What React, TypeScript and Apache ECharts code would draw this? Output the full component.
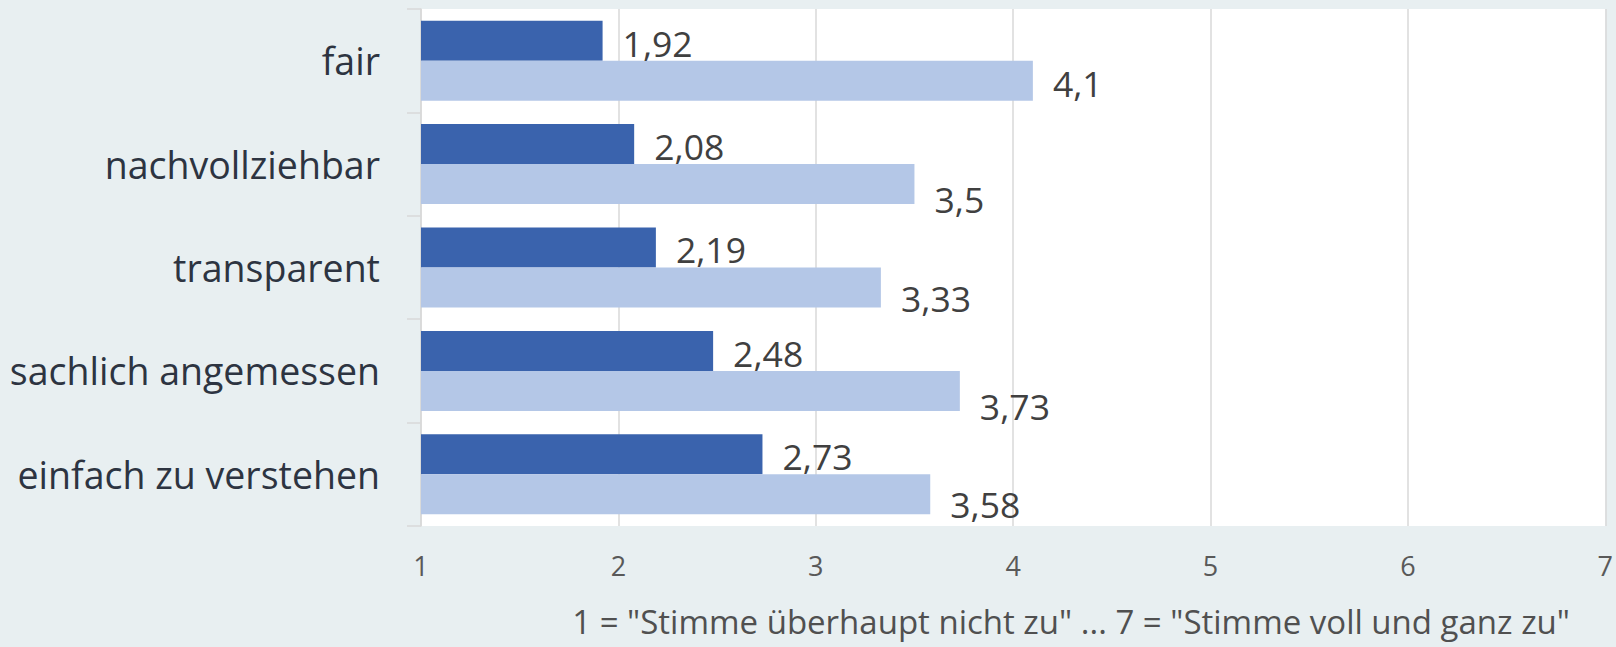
import React, { useEffect, useRef } from "react";
import * as echarts from "echarts";

const categories = ["fair", "nachvollziehbar", "transparent", "sachlich angemessen", "einfach zu verstehen"];
const seriesDark = [1.92, 2.08, 2.19, 2.48, 2.73];
const seriesLight = [4.1, 3.5, 3.33, 3.73, 3.58];
const xTicks = [1, 2, 3, 4, 5, 6, 7];
const axisTitle = '1 = "Stimme überhaupt nicht zu" ... 7 = "Stimme voll und ganz zu"';
// vertical nudges of the light series' labels, as in the reference
const lightLabelDy = [2, 15, 10, 15, 10];

const FONT = "Open Sans";
const fmt = (v: number) => String(v).replace(".", ",");

export default function App() {
  const ref = useRef<HTMLDivElement>(null);
  useEffect(() => {
    if (!ref.current) return;
    const chart = echarts.init(ref.current, null, { renderer: "svg" });
    chart.setOption({
      animation: false,
      backgroundColor: "#e8eff1",
      textStyle: { fontFamily: FONT },
      grid: {
        left: 421,
        right: 10,
        top: 9,
        bottom: 121,
        show: true,
        backgroundColor: "#ffffff",
        borderWidth: 0,
      },
      xAxis: {
        type: "value",
        min: xTicks[0],
        max: xTicks[xTicks.length - 1],
        interval: 1,
        axisLine: { show: false },
        axisTick: { show: false },
        splitLine: { show: true, lineStyle: { color: "#d9d9d9", width: 1.5 } },
        axisLabel: {
          margin: 26,
          fontSize: 27,
          color: "#595959",
          fontFamily: FONT,
        },
      },
      yAxis: {
        type: "category",
        inverse: true,
        data: categories,
        axisLine: { show: true, lineStyle: { color: "#d9d9d9", width: 1.5 } },
        axisTick: { show: true, length: 14, lineStyle: { color: "#d9d9d9", width: 1.5 } },
        axisLabel: {
          margin: 41,
          fontSize: 37.5,
          color: "#2d3441",
          fontFamily: FONT,
        },
      },
      graphic: [
        {
          type: "text",
          right: 46,
          top: 605,
          style: {
            text: axisTitle,
            fontSize: 33,
            fontFamily: FONT,
            fill: "#505050",
          },
        },
      ],
      series: [
        {
          type: "bar",
          data: seriesDark,
          barCategoryGap: "22.6%",
          barGap: "0%",
          itemStyle: { color: "#3a63ad" },
          label: {
            show: true,
            position: "right",
            distance: 20,
            offset: [0, 2],
            fontSize: 35.5,
            color: "#404040",
            fontFamily: FONT,
            formatter: (p: any) => fmt(p.value),
          },
        },
        {
          type: "bar",
          data: seriesLight.map((v, i) => ({
            value: v,
            label: { offset: [0, lightLabelDy[i]] },
          })),
          barCategoryGap: "22.6%",
          barGap: "0%",
          itemStyle: { color: "#b4c7e7" },
          label: {
            show: true,
            position: "right",
            distance: 20,
            fontSize: 35.5,
            color: "#404040",
            fontFamily: FONT,
            formatter: (p: any) => fmt(p.value),
          },
        },
      ],
    });
    return () => chart.dispose();
  }, []);
  return (
    <div
      ref={ref}
      style={{ position: "absolute", left: 0, top: 0, width: 1616, height: 647 }}
    />
  );
}
